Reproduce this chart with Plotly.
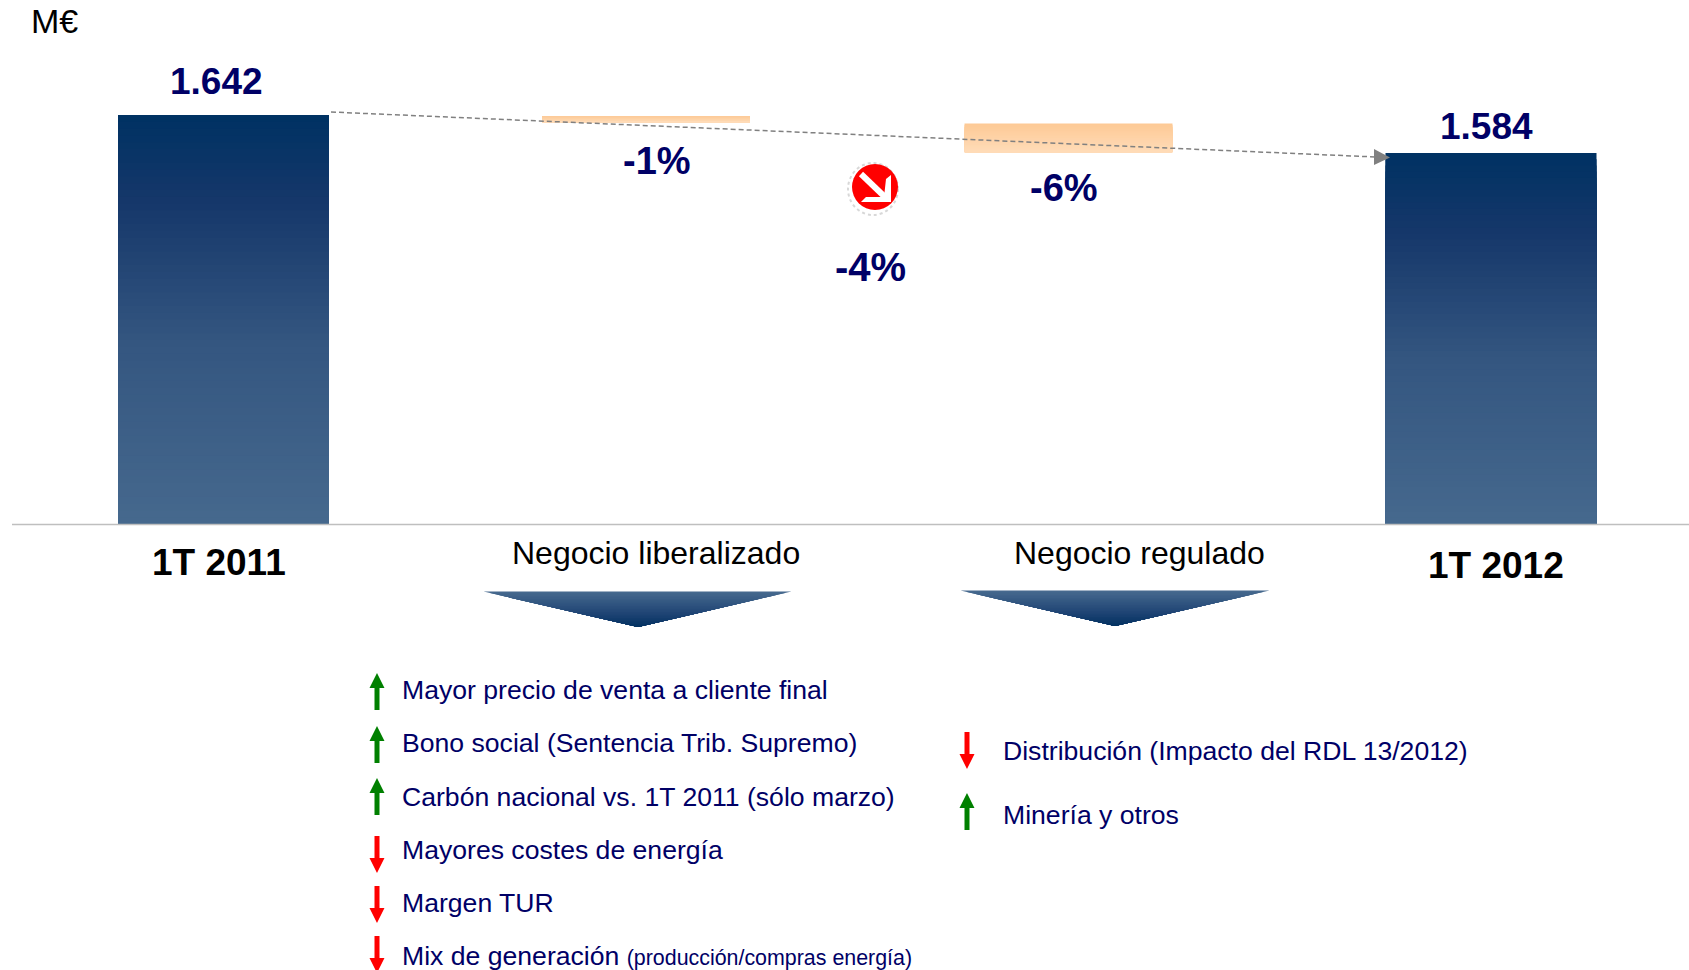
import plotly.graph_objects as go

W, H = 1689, 970

# ---- data ----
periods = ["1T 2011", "1T 2012"]
period_values = [1642, 1584]
segments = ["Negocio liberalizado", "Negocio regulado"]
segment_tops = [1640.5, 1629]
segment_bottoms = [1631, 1585.5]
segment_labels = ["-1%", "-6%"]
total_label = "-4%"
categories = ["1T 2011", "Negocio liberalizado", "Negocio regulado", "1T 2012"]
axis_base = 1018

left_items = ["Mayor precio de venta a cliente final", "Bono social (Sentencia Trib. Supremo)",
              "Carbón nacional vs. 1T 2011 (sólo marzo)", "Mayores costes de energía", "Margen TUR",
              "Mix de generación <span style='font-size:21.4px'>(producción/compras energía)</span>"]
left_dirs = [1, 1, 1, -1, -1, -1]
right_items = ["Distribución (Impacto del RDL 13/2012)", "Minería y otros"]
right_dirs = [-1, 1]

NAVY = "#000066"
FONT = "Liberation Sans"
BAR_STOPS = [(0, "#003263"), (0.2, "#15376a"), (0.55, "#345680"), (1, "#46698e")]
ORANGE_STOPS = [(0, "#fdca96"), (1, "#ffdcb9")]
FUNNEL_STOPS = [(0, "#46698e"), (0.6, "#1f4474"), (1, "#003060")]


def px(x):
    return x / W


def py(y):
    return 1 - y / H


def ramp(stops, t):
    for (t0, c1), (t1, c2) in zip(stops, stops[1:]):
        if t <= t1:
            f = (t - t0) / (t1 - t0)
            a = [int(c1[i:i + 2], 16) for i in (1, 3, 5)]
            b = [int(c2[i:i + 2], 16) for i in (1, 3, 5)]
            return "rgb(%d,%d,%d)" % tuple(round(p + (q - p) * f) for p, q in zip(a, b))
    return stops[-1][1]


def gradient_bar(cat, top, bottom, stops, n=60, width=0.4994):
    # painted from full height to shorter, so no seams appear between the bands
    xs, ys, bases, cols = [], [], [], []
    for i in range(n):
        t = i / n
        xs.append(cat)
        bases.append(bottom)
        ys.append((top - bottom) * (1 - t))
        cols.append(ramp(stops, t))
    return go.Bar(x=xs, y=ys, base=bases, width=width, marker=dict(color=cols, line=dict(width=0)),
                  hoverinfo="skip", showlegend=False, name=cat)


fig = go.Figure()
for name, v in zip(periods, period_values):
    fig.add_trace(gradient_bar(name, v, axis_base, BAR_STOPS))
for name, top, bot in zip(segments, segment_tops, segment_bottoms):
    fig.add_trace(gradient_bar(name, top, bot, ORANGE_STOPS, n=16, width=0.4923))

shapes = []


def poly(points, color):
    d = "M" + " L".join(f"{px(x):.6f},{py(y):.6f}" for x, y in points) + " Z"
    shapes.append(dict(type="path", xref="paper", yref="paper", path=d, fillcolor=color,
                       line=dict(width=0), layer="above"))


# axis line
shapes.append(dict(type="line", xref="paper", yref="paper", x0=px(12), x1=1, y0=py(524.5), y1=py(524.5),
                   line=dict(color="#bfbfbf", width=1.6)))
# dashed trend with arrowhead
shapes.append(dict(type="line", xref="paper", yref="paper", x0=px(331), y0=py(112), x1=px(1376), y1=py(157),
                   line=dict(color="#808080", width=1.5, dash="5px,3px")))
poly([(1374, 149), (1390, 157.5), (1374, 165)], "#808080")


# funnels with gradient
def funnel(x0, x1, tip, y0, y1):
    n = 24
    for i in range(n):
        t = i / n
        yy = y0 + (y1 - y0) * t
        poly([(x0 + (tip - x0) * t, yy), (x1 + (tip - x1) * t, yy), (tip, y1)], ramp(FUNNEL_STOPS, t))


funnel(483.5, 791.5, 638, 591.5, 627)
funnel(960.5, 1269.5, 1115, 590.5, 626)


# list arrows
def arrow(x, y0, d, green):
    col = "#008000" if green else "#ff0000"
    hw, sw, L, hl = 7.5, 2.5, 37, 15
    if d > 0:
        pts = [(x, y0), (x + hw, y0 + hl), (x + sw, y0 + hl), (x + sw, y0 + L), (x - sw, y0 + L), (x - sw, y0 + hl),
               (x - hw, y0 + hl)]
    else:
        pts = [(x, y0 + L), (x + hw, y0 + L - hl), (x + sw, y0 + L - hl), (x + sw, y0), (x - sw, y0),
               (x - sw, y0 + L - hl), (x - hw, y0 + L - hl)]
    poly(pts, col)


left_arrow_tops = [673, 726, 778, 836, 886, 936]
left_text_y = [690, 743, 797, 850, 903, 955.5]
right_arrow_tops = [732, 793]
right_text_y = [751, 815]
for d, y in zip(left_dirs, left_arrow_tops):
    arrow(377, y, d, d > 0)
for d, y in zip(right_dirs, right_arrow_tops):
    arrow(967, y, d, d > 0)

# red badge
cx, cy = 875, 187
shapes.append(dict(type="circle", xref="paper", yref="paper", x0=px(cx - 27), x1=px(cx + 23), y0=py(cy - 24),
                   y1=py(cy + 28), line=dict(color="#d8d8d8", width=2, dash="dot")))
shapes.append(dict(type="circle", xref="paper", yref="paper", x0=px(cx - 23), x1=px(cx + 23), y0=py(cy - 23),
                   y1=py(cy + 23), fillcolor="#ff0000", line=dict(width=0), layer="above"))
shapes.append(dict(type="path", xref="paper", yref="paper", layer="above",
                   path=f"M{px(cx-14):.6f},{py(cy-13):.6f} L{px(cx+11):.6f},{py(cy+11):.6f}",
                   line=dict(color="white", width=6)))
poly([(cx - 14, cy + 15), (cx + 16, cy + 15), (cx + 16, cy - 12), (cx + 11, cy - 8), (cx + 9, cy + 10), (cx - 9, cy + 10)],
     "white")

ann = []


def text(s, x, y, size, color="#000000", bold=False, anchor="center"):
    ann.append(dict(text=f"<b>{s}</b>" if bold else s, xref="paper", yref="paper", x=px(x), y=py(y), xanchor=anchor,
                    yanchor="middle", showarrow=False, font=dict(family=FONT, size=size, color=color)))


def num(v):
    return f"{v:,}".replace(",", ".")


text("M€", 29, 21, 34, anchor="left")
text(num(period_values[0]), 216, 81, 37, NAVY, True)
text(num(period_values[1]), 1486.5, 127, 37, NAVY, True)
text(segment_labels[0], 657, 161, 38, NAVY, True)
text(segment_labels[1], 1064, 188, 38, NAVY, True)
text(total_label, 870, 267, 40, NAVY, True)
text(periods[0], 219, 562, 37, "#000000", True)
text(periods[1], 1496, 565, 37, "#000000", True)
text(segments[0], 656, 553, 32)
text(segments[1], 1139, 553, 32)
for s, y in zip(left_items, left_text_y):
    text(s, 400, y, 26.6, NAVY, anchor="left")
for s, y in zip(right_items, right_text_y):
    text(s, 1001, y, 26.6, NAVY, anchor="left")

y_per_px = (period_values[0] - axis_base) / (524 - 115)
fig.update_layout(
    width=W, height=H, autosize=False, margin=dict(l=0, r=0, t=0, b=0), barmode="overlay",
    paper_bgcolor="white", plot_bgcolor="white", showlegend=False, shapes=shapes, annotations=ann,
    font=dict(family=FONT),
    xaxis=dict(type="category", categoryorder="array", categoryarray=categories,
               range=[-223.5 / 422.5, (W - 223.5) / 422.5], visible=False),
    yaxis=dict(range=[axis_base - (H - 524) * y_per_px, period_values[0] + 115 * y_per_px], visible=False),
)

fig.write_html("out.html", config={"displayModeBar": False}, post_script="document.body.style.margin='0';")
